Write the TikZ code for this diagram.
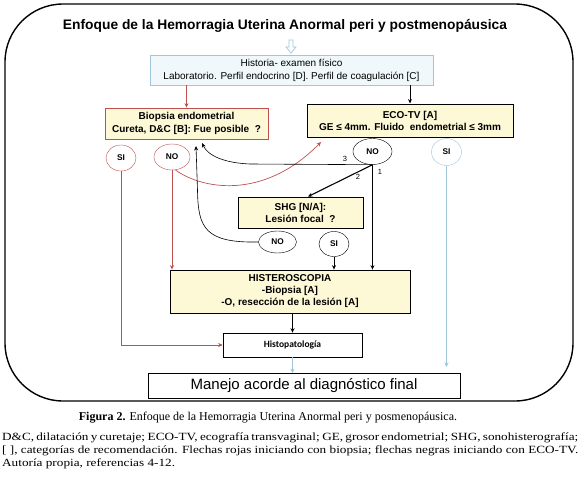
\documentclass[tikz,border=0pt]{standalone}
\usepackage{fontspec}
\usepackage{graphicx}
\setmainfont{Liberation Sans}
\newfontfamily\capfont{Liberation Serif}
\newfontfamily\calib{Carlito}
\usetikzlibrary{arrows.meta,shapes.geometric}
\definecolor{yfill}{RGB}{253,248,214}
\definecolor{redc}{RGB}{192,80,77}
\definecolor{bluec}{RGB}{160,198,220}
\definecolor{hfill}{RGB}{240,248,251}
\newlength\capW
\newsavebox\capbox
\begin{document}
\sbox\capbox{\capfont\fontsize{11}{13}\selectfont [ ], categorías de recomendación. Flechas rojas iniciando con biopsia; flechas negras iniciando con ECO-TV.}%
\setlength\capW{\wd\capbox}%
\begin{tikzpicture}[x=1pt,y=-1pt,
  tip/.style={-{Stealth[length=4.5pt,width=4pt]}},
  box/.style={draw, rectangle, fill=yfill, align=center, inner sep=0pt, font=\bfseries\fontsize{10}{12}\selectfont},
  oval/.style={draw, ellipse, fill=white, inner sep=0pt, font=\bfseries\fontsize{8.3}{9}\selectfont},
  redl/.style={draw=redc, line width=0.7pt},
  blk/.style={draw=black, line width=0.8pt},
  blkt/.style={draw=black, line width=1.1pt},
  thn/.style={draw=black, line width=0.6pt},
  bluel/.style={draw=bluec, line width=1pt},
  lab/.style={inner sep=0pt, font=\fontsize{7.5}{8}\selectfont}]
\useasboundingbox (0,0) rectangle (582,483);
% frame
\draw[line width=1.4pt, rounded corners=58pt] (5,4) rectangle (573,401);
% title
\node[font=\bfseries\fontsize{13.8}{15}\selectfont, inner sep=0pt] (title) at (285,26) {Enfoque de la Hemorragia Uterina Anormal peri y postmenopáusica};
% hollow arrow
\draw[bluec, fill=white, line width=0.7pt] (289,40) -- (293,40) -- (293,47) -- (296,47) -- (291,53) -- (286,47) -- (289,47) -- cycle;
% boxes
\node[draw=bluec, fill=hfill, minimum width=283pt, minimum height=30pt, align=center, inner sep=0pt, font=\fontsize{10}{13}\selectfont] (hist) at (291.5,70) {Historia- examen físico\\Laboratorio. Perfil endocrino [D]. Perfil de coagulación [C]};
\node[box, draw=redc, line width=0.8pt, minimum width=163pt, minimum height=31pt, font=\bfseries\fontsize{10}{13}\selectfont] (bio) at (186.5,123.5) {Biopsia endometrial\\Cureta, D\&C [B]: Fue posible\ \ ?};
\node[box, line width=1pt, minimum width=206pt, minimum height=33pt] (eco) at (410,120.5) {ECO-TV [A]\\GE ≤ 4mm. Fluido\ \ endometrial ≤ 3mm};
\node[oval, draw=redc, minimum width=30pt, minimum height=26pt] (siR) at (121,158) {SI};
\node[oval, draw=redc, minimum width=36pt, minimum height=26pt] (noR) at (172,157) {NO};
\node[oval, minimum width=39pt, minimum height=26pt] (noB) at (372.5,151.5) {NO};
\node[oval, draw=bluec, minimum width=30pt, minimum height=27pt] (siB) at (446.5,152) {SI};
\node[box, line width=0.8pt, minimum width=125pt, minimum height=31pt] (shg) at (300.5,212.5) {SHG [N/A]:\\Lesión focal\ \ ?};
\node[oval, minimum width=38pt, minimum height=22pt] (noS) at (277.5,242) {NO};
\node[oval, minimum width=30pt, minimum height=25pt] (siS) at (334,244) {SI};
\node[box, line width=0.8pt, minimum width=240pt, minimum height=43pt] (hys) at (290,291.5) {HISTEROSCOPIA\\-Biopsia [A]\\-O, resección de la lesión [A]};
\node[draw, line width=0.6pt, fill=white, minimum width=139pt, minimum height=24pt, inner sep=0pt, font=\calib\bfseries\fontsize{9.5}{10}\selectfont] (histo) at (292.5,345) {Histopatología};
\node[draw, line width=0.8pt, fill=white, minimum width=312pt, minimum height=25pt, inner sep=0pt, font=\fontsize{15}{16}\selectfont] (manejo) at (304,386) {Manejo acorde al diagnóstico final};
% free ends
\coordinate (ecoin) at (321,142);
\coordinate (bioinA) at (202,143);
\coordinate (bioinB) at (196,146);
\coordinate (bluetip) at (446.5,367);
% connectors
\draw[redl,tip] (hist.south -| bio.north) -- (bio.north);
\draw[blk,tip] (hist.south -| eco.north) -- (eco.north);
\draw[redl,tip] (siR.south) |- (histo.west);
\draw[redl,tip] (noR.south) -- (noR.south |- hys.north);
\draw[redl,tip] (noR.-75) .. controls (200,188) and (262,202) .. (ecoin);
\draw[thn,tip] (noB.south) -- (250,164) .. controls (225,163) and (208,156) .. (bioinA);
\draw[blkt,tip] (noB.south) -- ([xshift=7.5pt]shg.north);
\draw[blkt,tip] (noB.south) -- (noB.south |- hys.north);
\draw[thn,tip] (noS.west) .. controls (205,243) and (198,228) .. (197.5,190) -- (bioinB);
\draw[blk,tip] (siS.south) -- (siS.south |- hys.north);
\draw[blk,tip] (hys.south -| histo.north) -- (histo.north);
\draw[bluel,tip] (histo.south) -- (histo.south |- manejo.north);
\draw[bluel,tip] (siB.south) -- (bluetip);
% labels
\node[lab] (l3) at (345,159) {3};
\node[lab] (l2) at (358,177) {2};
\node[lab] (l1) at (380,172) {1};
% caption
\node[font=\capfont\fontsize{12}{14}\selectfont, inner sep=0pt] (cap) at (268,418) {\textbf{Figura 2.} Enfoque de la Hemorragia Uterina Anormal peri y posmenopáusica.};
\node[anchor=north west, inner sep=0pt, font=\capfont\fontsize{11}{13}\selectfont] (note) at (2,433) {\resizebox{576pt}{\height}{\parbox{\capW}{\noindent D\&C, dilatación y curetaje; ECO-TV, ecografía transvaginal; GE, grosor endometrial; SHG, sonohisterografía;\linebreak {[ ]}, categorías de recomendación. Flechas rojas iniciando con biopsia; flechas negras iniciando con ECO-TV.\linebreak Autoría propia, referencias 4-12.}}};
\end{tikzpicture}
\end{document}
